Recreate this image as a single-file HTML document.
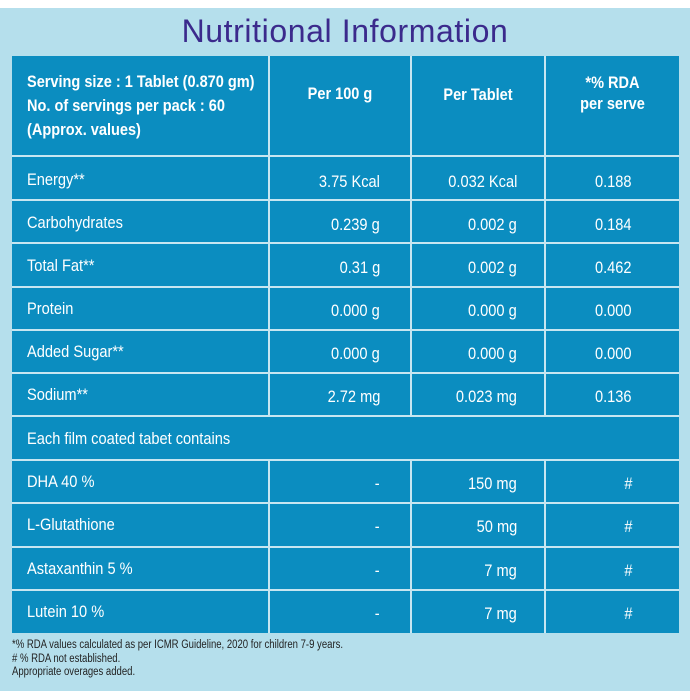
<!DOCTYPE html>
<html><head><style>
body{margin:0;width:690px;height:700px;background:#fff;position:relative;overflow:hidden;font-family:"Liberation Sans",sans-serif}
.bg{position:absolute;left:0;top:8px;width:690px;height:683px;background:#b5dfec}
.title{position:absolute;left:0;width:690px;top:13px;text-align:center;font-size:32px;color:#3b2a8c;font-weight:normal;letter-spacing:0.6px}
.tbl{position:absolute;left:12px;top:56px;width:667px;height:577px;background:#0b8dc0}
.h{position:absolute;height:2px;left:12px;width:667px;background:#c7e6f1}
.v{position:absolute;width:2px;background:#c7e6f1}
.t{position:absolute;color:#fff;font-size:17px;white-space:nowrap;transform:scaleX(0.86);transform-origin:left center;line-height:20px}
.r{transform-origin:right center}
.c{transform-origin:center center;text-align:center}
.b{font-weight:bold;font-size:17px;transform:scaleX(0.855)}
.f{position:absolute;left:12px;font-size:11.5px;color:#222;transform:scaleX(0.83);transform-origin:left center;white-space:nowrap}
</style></head><body>
<div class="bg"></div>
<div class="title">Nutritional Information</div>
<div class="tbl"></div>
<div class="v" style="left:268px;top:56px;height:360px"></div>
<div class="v" style="left:410px;top:56px;height:360px"></div>
<div class="v" style="left:544px;top:56px;height:360px"></div>
<div class="v" style="left:268px;top:460px;height:173px"></div>
<div class="v" style="left:410px;top:460px;height:173px"></div>
<div class="v" style="left:544px;top:460px;height:173px"></div>
<div class="h" style="top:155px"></div>
<div class="h" style="top:199px"></div>
<div class="h" style="top:242px"></div>
<div class="h" style="top:286px"></div>
<div class="h" style="top:329px"></div>
<div class="h" style="top:372px"></div>
<div class="h" style="top:415px"></div>
<div class="h" style="top:459px"></div>
<div class="h" style="top:502px"></div>
<div class="h" style="top:546px"></div>
<div class="h" style="top:589px"></div>

<div class="t b" style="left:27px;top:72px">Serving size : 1 Tablet (0.870 gm)</div>
<div class="t b" style="left:27px;top:96px">No. of servings per pack : 60</div>
<div class="t b" style="left:27px;top:120px">(Approx. values)</div>
<div class="t b c" style="left:270px;width:140px;top:84px">Per 100 g</div>
<div class="t b c" style="left:412px;width:132px;top:85px">Per Tablet</div>
<div class="t b c" style="left:546px;width:133px;top:73px">*% RDA</div>
<div class="t b c" style="left:546px;width:133px;top:94px">per serve</div>

<div class="t" style="left:27px;top:170px">Energy**</div>
<div class="t" style="left:27px;top:213px">Carbohydrates</div>
<div class="t" style="left:27px;top:256px">Total Fat**</div>
<div class="t" style="left:27px;top:299px">Protein</div>
<div class="t" style="left:27px;top:342px">Added Sugar**</div>
<div class="t" style="left:27px;top:385px">Sodium**</div>
<div class="t" style="left:27px;top:429px">Each film coated tabet contains</div>
<div class="t" style="left:27px;top:472px">DHA 40 %</div>
<div class="t" style="left:27px;top:515px">L-Glutathione</div>
<div class="t" style="left:27px;top:559px">Astaxanthin 5 %</div>
<div class="t" style="left:27px;top:602px">Lutein 10 %</div>

<div class="t r" style="right:310px;top:172px">3.75 Kcal</div>
<div class="t r" style="right:310px;top:215px">0.239 g</div>
<div class="t r" style="right:310px;top:258px">0.31 g</div>
<div class="t r" style="right:310px;top:301px">0.000 g</div>
<div class="t r" style="right:310px;top:344px">0.000 g</div>
<div class="t r" style="right:310px;top:387px">2.72 mg</div>
<div class="t r" style="right:310px;top:474px">-</div>
<div class="t r" style="right:310px;top:517px">-</div>
<div class="t r" style="right:310px;top:561px">-</div>
<div class="t r" style="right:310px;top:604px">-</div>

<div class="t r" style="right:173px;top:172px">0.032 Kcal</div>
<div class="t r" style="right:173px;top:215px">0.002 g</div>
<div class="t r" style="right:173px;top:258px">0.002 g</div>
<div class="t r" style="right:173px;top:301px">0.000 g</div>
<div class="t r" style="right:173px;top:344px">0.000 g</div>
<div class="t r" style="right:173px;top:387px">0.023 mg</div>
<div class="t r" style="right:173px;top:474px">150 mg</div>
<div class="t r" style="right:173px;top:517px">50 mg</div>
<div class="t r" style="right:173px;top:561px">7 mg</div>
<div class="t r" style="right:173px;top:604px">7 mg</div>

<div class="t r" style="right:58px;top:172px">0.188</div>
<div class="t r" style="right:58px;top:215px">0.184</div>
<div class="t r" style="right:58px;top:258px">0.462</div>
<div class="t r" style="right:58px;top:301px">0.000</div>
<div class="t r" style="right:58px;top:344px">0.000</div>
<div class="t r" style="right:58px;top:387px">0.136</div>
<div class="t r" style="right:58px;top:474px">#</div>
<div class="t r" style="right:58px;top:517px">#</div>
<div class="t r" style="right:58px;top:561px">#</div>
<div class="t r" style="right:58px;top:604px">#</div>

<div class="f" style="top:639px">*% RDA values calculated as per ICMR Guideline, 2020 for children 7-9 years.</div>
<div class="f" style="top:653px"># % RDA not established.</div>
<div class="f" style="top:666px">Appropriate overages added.</div>
</body></html>
